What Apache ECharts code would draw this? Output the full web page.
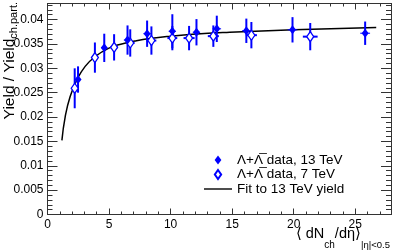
<!DOCTYPE html>
<html>
<head>
<meta charset="utf-8">
<script src="https://cdn.jsdelivr.net/npm/echarts@6/dist/echarts.min.js"></script>
<style>html,body{margin:0;padding:0;background:#fff}#c{width:399px;height:250px}</style>
</head>
<body>
<div id="c"></div>
<script>
// 13 TeV data (filled diamonds)
const x13 = [2.48, 4.61, 6.50, 8.09, 10.14, 12.10, 13.75, 16.15, 19.90, 25.80];
const y13 = [0.0277, 0.0342, 0.0358, 0.0371, 0.0376, 0.0374, 0.0381, 0.0377, 0.0379, 0.0372];
const ey13 = [0.0027, 0.0029, 0.0030, 0.0027, 0.0035, 0.0027, 0.0027, 0.0025, 0.0026, 0.0024];
const ex13 = [0.20, 0.25, 0.30, 0.30, 0.30, 0.30, 0.35, 0.35, 0.40, 0.40];
// 7 TeV data (open diamonds)
const x7 = [2.21, 3.85, 5.41, 6.72, 8.44, 10.14, 11.50, 13.47, 16.56, 21.34];
const y7 = [0.0259, 0.0322, 0.0343, 0.0352, 0.0357, 0.0362, 0.0362, 0.0366, 0.0368, 0.0365];
const ey7 = [0.0041, 0.0031, 0.0027, 0.0028, 0.0029, 0.0025, 0.0025, 0.0022, 0.0027, 0.0028];
const ex7 = [0.20, 0.25, 0.30, 0.35, 0.40, 0.40, 0.45, 0.45, 0.45, 0.60];
// Fit curve
const fitX = [1.17, 1.44, 1.84, 2.38, 3.06, 3.87, 4.95, 6.03, 7.11, 8.3, 10, 11.8, 14.8, 20, 26.7];
const fitY = [0.0152, 0.0201, 0.0242, 0.0276, 0.0304, 0.0324, 0.0341, 0.0350, 0.0356, 0.0361, 0.0366, 0.0370, 0.0374, 0.0379, 0.0384];
// Axis settings
const xMin = 0, xMax = 27.9, xMajor = 5, xMinor = 1;
const yMin = 0, yMax = 0.0433, yMajor = 0.005, yMinor = 0.001;
const name13 = 'Λ+Λ\u0305 data, 13 TeV';
const name7 = 'Λ+Λ\u0305 data, 7 TeV';
const nameFit = 'Fit to 13 TeV yield';

const BLUE = '#0000ff';
const FONT = '"Liberation Sans", Arial, sans-serif';
const AX = '#333';

function isMult(v, step) { const r = v / step; return Math.abs(r - Math.round(r)) < 1e-6; }

function xAx(pos, interval, len, labels, line) {
  return {
    type: 'value', position: pos, min: xMin, max: xMax, interval: interval,
    axisLine: { show: line, onZero: false, lineStyle: { color: AX, width: 1 } },
    axisTick: { show: true, inside: true, length: len, lineStyle: { color: AX, width: 1 } },
    axisLabel: { show: labels, margin: 4, fontSize: 12, color: '#000', fontFamily: FONT,
      formatter: v => isMult(v, xMajor) ? String(Math.round(v)) : '' },
    splitLine: { show: false }
  };
}
function yAx(pos, interval, len, labels, line) {
  return {
    type: 'value', position: pos, min: yMin, max: yMax, interval: interval,
    axisLine: { show: line, onZero: false, lineStyle: { color: AX, width: 1 } },
    axisTick: { show: true, inside: true, length: len, lineStyle: { color: AX, width: 1 } },
    axisLabel: { show: labels, margin: 4, fontSize: 12, color: '#000', fontFamily: FONT,
      formatter: v => isMult(v, yMajor) ? String(+v.toFixed(3)) : '' },
    splitLine: { show: false }
  };
}

function errRender(hw) {
  return function (params, api) {
    const x = api.value(0), y = api.value(1), ex = api.value(2), ey = api.value(3);
    const c = api.coord([x, y]);
    const t = api.coord([x, y + ey]);
    const b = api.coord([x, y - ey]);
    const l = api.coord([x - ex, y]);
    const r = api.coord([x + ex, y]);
    return {
      type: 'group', children: [
        { type: 'line', shape: { x1: c[0], y1: t[1], x2: c[0], y2: b[1] }, style: { stroke: BLUE, lineWidth: 2 } },
        { type: 'line', shape: { x1: l[0], y1: c[1], x2: r[0], y2: c[1] }, style: { stroke: BLUE, lineWidth: hw } }
      ]
    };
  };
}

const chart = echarts.init(document.getElementById('c'), null, { renderer: 'canvas' });
chart.setOption({
  animation: false,
  backgroundColor: '#fff',
  grid: { left: 47.5, right: 8, top: 3.5, bottom: 35.5, containLabel: false },
  xAxis: [
    xAx('bottom', xMajor, 6, true, true),
    xAx('bottom', xMinor, 3, false, false),
    xAx('top', xMajor, 6, false, true),
    xAx('top', xMinor, 3, false, false)
  ],
  yAxis: [
    yAx('left', yMajor, 10, true, true),
    yAx('left', yMinor, 5, false, false),
    yAx('right', yMajor, 10, false, true),
    yAx('right', yMinor, 5, false, false)
  ],
  legend: {
    orient: 'vertical', left: 199, top: 148, itemGap: 0.5, itemWidth: 28, itemHeight: 9,
    textStyle: { fontSize: 13.5, color: '#000', fontFamily: FONT },
    data: [
      { name: name13, icon: 'path://M0,-4L3,0L0,4L-3,0Z' },
      { name: name7, icon: 'path://M0,-5L3.5,0L0,5L-3.5,0Z' },
      { name: nameFit, icon: 'path://M0,0L28,0L28,1.4L0,1.4Z' }
    ]
  },
  series: [
    {
      name: nameFit, type: 'line', smooth: true, symbol: 'none',
      lineStyle: { color: '#000', width: 1.5 }, itemStyle: { color: '#000' },
      data: fitX.map((x, i) => [x, fitY[i]]), z: 2
    },
    {
      name: 'err7', type: 'custom', renderItem: errRender(2),
      data: x7.map((x, i) => [x, y7[i], ex7[i], ey7[i]]), encode: { x: 0, y: 1 }, z: 3
    },
    {
      name: 'err13', type: 'custom', renderItem: errRender(1),
      data: x13.map((x, i) => [x, y13[i], ex13[i], ey13[i]]), encode: { x: 0, y: 1 }, z: 3
    },
    {
      name: name7, type: 'scatter', symbol: 'diamond', symbolSize: [7, 10],
      itemStyle: { color: '#fff', borderColor: BLUE, borderWidth: 1.3, opacity: 1 },
      data: x7.map((x, i) => [x, y7[i]]), z: 4
    },
    {
      name: name13, type: 'scatter', symbol: 'diamond', symbolSize: [7, 9],
      itemStyle: { color: BLUE, opacity: 1 },
      data: x13.map((x, i) => [x, y13[i]]), z: 5
    }
  ],
  graphic: [
    {
      type: 'text', x: 1.5, y: 2, rotation: Math.PI / 2,
      style: {
        text: '{m|Yield / Yield}{s|ch.part.}', align: 'right', verticalAlign: 'top', fill: '#000',
        rich: {
          m: { fontSize: 15.5, fontFamily: FONT, verticalAlign: 'top', lineHeight: 15.5 },
          s: { fontSize: 11, fontFamily: FONT, verticalAlign: 'bottom', lineHeight: 17.5 }
        }
      }
    },
    {
      type: 'text', x: 390, y: 226,
      style: {
        text: '{m|⟨ dN}{s|ch}{m|/dη⟩}{t||η|<0.5}', align: 'right', verticalAlign: 'top', fill: '#000',
        rich: {
          m: { fontSize: 14.5, fontFamily: FONT, verticalAlign: 'top', lineHeight: 15 },
          s: { fontSize: 10, fontFamily: FONT, verticalAlign: 'bottom', lineHeight: 21 },
          t: { fontSize: 9.5, fontFamily: FONT, verticalAlign: 'bottom', lineHeight: 24 }
        }
      }
    }
  ]
});
</script>
</body>
</html>
